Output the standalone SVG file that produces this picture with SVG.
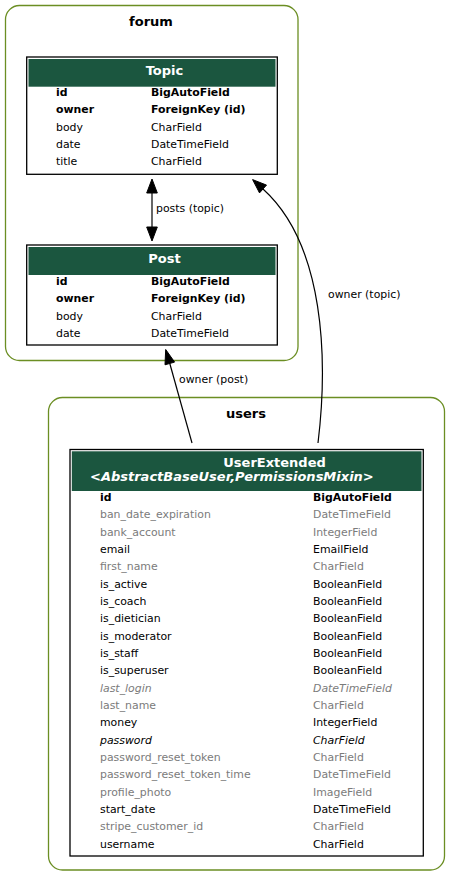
<svg xmlns="http://www.w3.org/2000/svg" width="451" height="877" viewBox="0 0 451 877">
<style>
text{font-family:"DejaVu Sans","Liberation Sans",sans-serif;}
.cl{fill:none;stroke:#6b8e23;stroke-width:1.3;}
.title{font-size:13px;font-weight:bold;fill:#000;}
.tbl{fill:#fff;stroke:#000;stroke-width:1.3;}
.hdr{fill:#1b563f;stroke:none;}
.ht{font-size:13px;font-weight:bold;fill:#fff;}
.r{font-size:10.9px;fill:#000;}
.b{font-weight:bold;}
.g{fill:#7b7b7b;}
.i{font-style:italic;}
.edge{fill:none;stroke:#000;stroke-width:1.2;}
.ah{fill:#000;stroke:#000;stroke-width:1;}
.el{font-size:10.9px;fill:#000;}
</style>
<rect width="451" height="877" fill="#fff"/>
<g id="cluster_forum">
<rect class="cl" x="5.5" y="5.5" width="292.5" height="355" rx="14"/>
<text class="title" x="151" y="26" text-anchor="middle">forum</text>
</g>
<g id="cluster_users">
<rect class="cl" x="48.5" y="397.5" width="396" height="472.5" rx="14"/>
<text class="title" x="246" y="418.3" text-anchor="middle">users</text>
</g>
<g id="node_Topic">
<rect class="tbl" x="26.7" y="57" width="250.6" height="117.3"/>
<rect class="hdr" x="28.5" y="59" width="247" height="27.7"/>
<text class="ht" x="164.5" y="75" text-anchor="middle">Topic</text>
<text class="r b" x="56" y="96">id</text><text class="r b" x="151" y="96">BigAutoField</text>
<text class="r b" x="56" y="113.3">owner</text><text class="r b" x="151" y="113.3">ForeignKey (id)</text>
<text class="r" x="56" y="130.6">body</text><text class="r" x="151" y="130.6">CharField</text>
<text class="r" x="56" y="148">date</text><text class="r" x="151" y="148">DateTimeField</text>
<text class="r" x="56" y="165.3">title</text><text class="r" x="151" y="165.3">CharField</text>
</g>
<g id="node_Post">
<rect class="tbl" x="26.7" y="245" width="250.6" height="100"/>
<rect class="hdr" x="28.5" y="247" width="247" height="28"/>
<text class="ht" x="164.5" y="263.3" text-anchor="middle">Post</text>
<text class="r b" x="56" y="285">id</text><text class="r b" x="151" y="285">BigAutoField</text>
<text class="r b" x="56" y="302.3">owner</text><text class="r b" x="151" y="302.3">ForeignKey (id)</text>
<text class="r" x="56" y="319.6">body</text><text class="r" x="151" y="319.6">CharField</text>
<text class="r" x="56" y="337">date</text><text class="r" x="151" y="337">DateTimeField</text>
</g>
<g id="node_UserExtended">
<rect class="tbl" x="70" y="449.5" width="353.3" height="406.5"/>
<rect class="hdr" x="71.8" y="451.3" width="349.7" height="39.7"/>
<text class="ht" x="223.3" y="466.7">UserExtended</text>
<text class="ht i" x="90" y="480.7">&lt;AbstractBaseUser,PermissionsMixin&gt;</text>
<text class="r b" x="100" y="501">id</text><text class="r b" x="313" y="501">BigAutoField</text>
<text class="r g" x="100" y="518.3">ban_date_expiration</text><text class="r g" x="313" y="518.3">DateTimeField</text>
<text class="r g" x="100" y="535.7">bank_account</text><text class="r g" x="313" y="535.7">IntegerField</text>
<text class="r" x="100" y="553">email</text><text class="r" x="313" y="553">EmailField</text>
<text class="r g" x="100" y="570.3">first_name</text><text class="r g" x="313" y="570.3">CharField</text>
<text class="r" x="100" y="587.7">is_active</text><text class="r" x="313" y="587.7">BooleanField</text>
<text class="r" x="100" y="605">is_coach</text><text class="r" x="313" y="605">BooleanField</text>
<text class="r" x="100" y="622.3">is_dietician</text><text class="r" x="313" y="622.3">BooleanField</text>
<text class="r" x="100" y="639.6">is_moderator</text><text class="r" x="313" y="639.6">BooleanField</text>
<text class="r" x="100" y="657">is_staff</text><text class="r" x="313" y="657">BooleanField</text>
<text class="r" x="100" y="674.3">is_superuser</text><text class="r" x="313" y="674.3">BooleanField</text>
<text class="r g i" x="100" y="691.6">last_login</text><text class="r g i" x="313" y="691.6">DateTimeField</text>
<text class="r g" x="100" y="709">last_name</text><text class="r g" x="313" y="709">CharField</text>
<text class="r" x="100" y="726.3">money</text><text class="r" x="313" y="726.3">IntegerField</text>
<text class="r i" x="100" y="743.6">password</text><text class="r i" x="313" y="743.6">CharField</text>
<text class="r g" x="100" y="761">password_reset_token</text><text class="r g" x="313" y="761">CharField</text>
<text class="r g" x="100" y="778.3">password_reset_token_time</text><text class="r g" x="313" y="778.3">DateTimeField</text>
<text class="r g" x="100" y="795.6">profile_photo</text><text class="r g" x="313" y="795.6">ImageField</text>
<text class="r" x="100" y="813">start_date</text><text class="r" x="313" y="813">DateTimeField</text>
<text class="r g" x="100" y="830.3">stripe_customer_id</text><text class="r g" x="313" y="830.3">CharField</text>
<text class="r" x="100" y="847.6">username</text><text class="r" x="313" y="847.6">CharField</text>
</g>
<g id="connectors">
<g id="edge_posts_topic">
<path class="edge" d="M152,193 L152,227"/>
<polygon class="ah" points="152,179 157.3,193 146.7,193"/>
<polygon class="ah" points="152,241 146.7,227 157.3,227"/>
<text class="el" x="156" y="212.3">posts (topic)</text>
</g>
<g id="edge_owner_post">
<path class="edge" d="M192,443 L169.8,363.5"/>
<polygon class="ah" points="165.7,349.5 174.6,362.1 165,364.8"/>
<text class="el" x="179" y="383">owner (post)</text>
</g>
<g id="edge_owner_topic">
<path class="edge" d="M318,443 C328,360 325,245 263,189"/>
<polygon class="ah" points="252.6,179.6 266.5,185.1 259.5,192.9"/>
<text class="el" x="328" y="298">owner (topic)</text>
</g>
</g>
</svg>
